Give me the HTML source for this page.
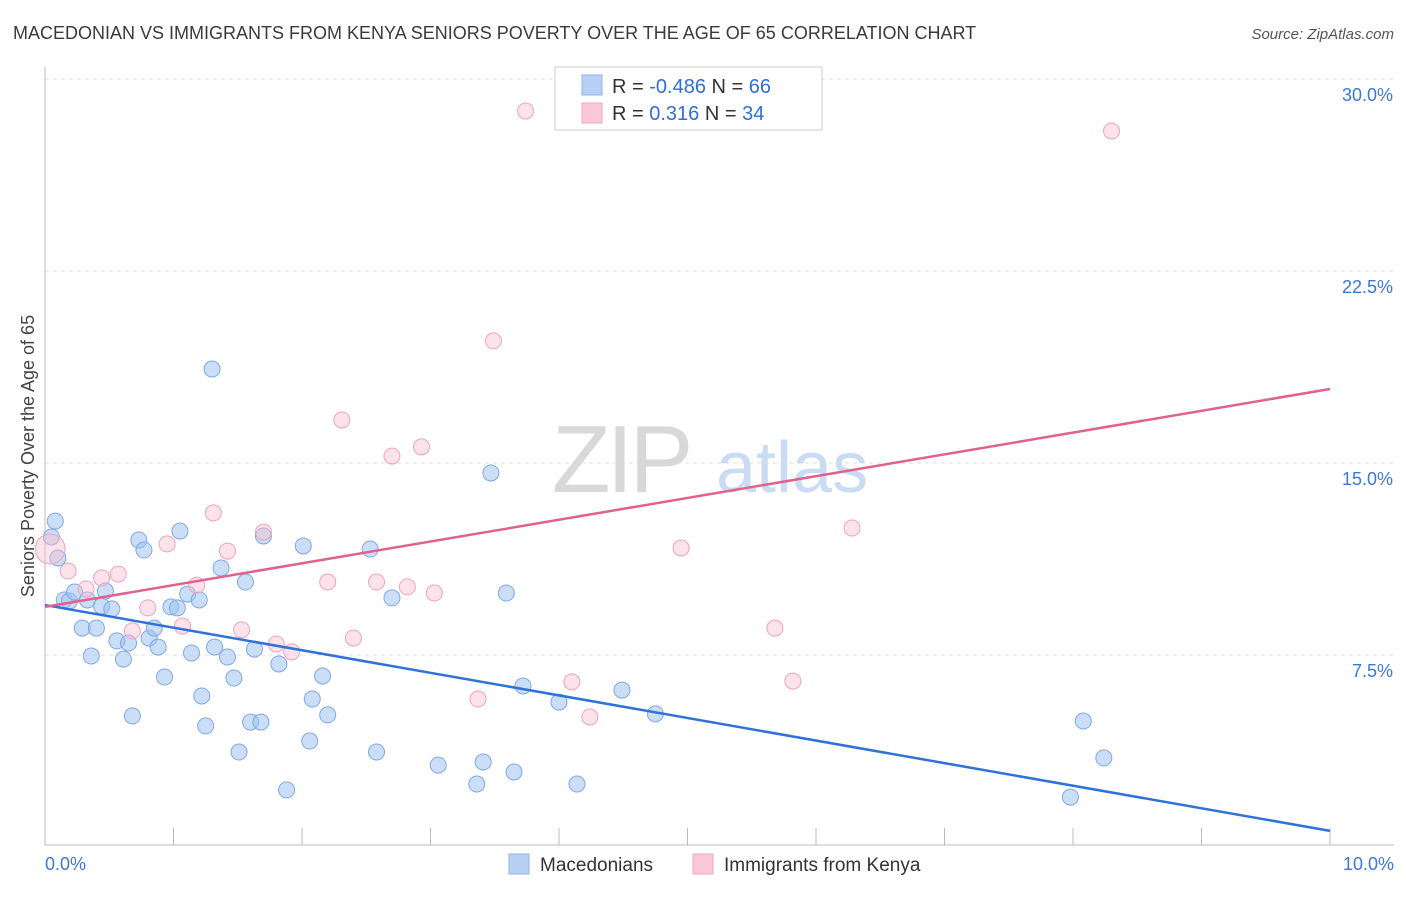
<!DOCTYPE html>
<html><head><meta charset="utf-8"><style>
body{margin:0;background:#fff;font-family:"Liberation Sans",sans-serif;}
svg text{font-family:"Liberation Sans",sans-serif;}
</style></head><body>
<svg id="chart" width="1406" height="892" xmlns="http://www.w3.org/2000/svg">
<text x="13" y="39" font-size="18" fill="#3a3a3a">MACEDONIAN VS IMMIGRANTS FROM KENYA SENIORS POVERTY OVER THE AGE OF 65 CORRELATION CHART</text>
<text x="1394" y="39" font-size="15" fill="#555" text-anchor="end" font-style="italic">Source: ZipAtlas.com</text>
<g id="grid"></g>
<g>
<text x="552" y="492" font-size="96" fill="#d8d8d8" font-family="Liberation Serif" letter-spacing="-4">ZIP</text>
<text x="716" y="492" font-size="72" fill="#c9dcf3">atlas</text>
</g>
<g id="axes"></g>
<g id="marks"></g>
<text transform="translate(34,456) rotate(-90)" text-anchor="middle" font-size="18" fill="#444">Seniors Poverty Over the Age of 65</text>
<g>
<rect x="555" y="67" width="267" height="63" fill="#fff" stroke="#ccc"/>
<rect x="582" y="75" width="20" height="20" fill="#b7d0f3" stroke="#8fb4e8"/>
<rect x="582" y="103" width="20" height="20" fill="#fac8d6" stroke="#f0a8c0"/>
<text x="612" y="93" font-size="20" fill="#333">R = <tspan fill="#2f6fd6">-0.486</tspan>   N = <tspan fill="#2f6fd6">66</tspan></text>
<text x="612" y="120" font-size="20" fill="#333">R =   <tspan fill="#2f6fd6">0.316</tspan>   N = <tspan fill="#2f6fd6">34</tspan></text>
</g>
<g>
<rect x="509" y="854" width="20" height="20" fill="#b7d0f3" stroke="#8fb4e8"/>
<text x="540" y="871" font-size="19" fill="#333">Macedonians</text>
<rect x="693" y="854" width="20" height="20" fill="#fac8d6" stroke="#f0a8c0"/>
<text x="724" y="871" font-size="19" fill="#333">Immigrants from Kenya</text>
</g>
</svg>
<script>
const yTicks=[7.5,15,22.5,30];
const yTickLabels=["7.5%","15.0%","22.5%","30.0%"];
const xTickLabels=["0.0%","10.0%"];
const blueX=[0.08,0.05,0.10,0.15,0.19,0.23,0.29,0.33,0.36,0.40,0.44,0.47,0.52,0.56,0.61,0.65,0.68,0.73,0.77,0.81,0.85,0.88,0.93,0.98,1.03,1.05,1.11,1.14,1.20,1.22,1.25,1.30,1.32,1.37,1.42,1.47,1.51,1.56,1.60,1.63,1.68,1.70,1.82,1.88,2.01,2.06,2.08,2.16,2.20,2.53,2.58,2.70,3.06,3.36,3.41,3.47,3.59,3.65,3.72,4.00,4.14,4.49,4.75,7.98,8.08,8.24];
const blueY=[12.73,12.11,11.29,9.65,9.61,9.96,8.55,9.65,7.46,8.55,9.41,10.0,9.30,8.05,7.34,7.97,5.12,11.99,11.60,8.16,8.55,7.81,6.64,9.38,9.34,12.34,9.88,7.58,9.65,5.90,4.73,18.67,7.81,10.90,7.42,6.60,3.71,10.35,4.88,7.73,4.88,12.15,7.15,2.23,11.76,4.14,5.78,6.68,5.16,11.64,3.71,9.73,3.20,2.46,3.32,14.61,9.92,2.93,6.29,5.66,2.46,6.13,5.20,1.95,4.92,3.48];
const pinkX=[0.04,0.18,0.32,0.44,0.57,0.68,0.80,0.95,1.07,1.18,1.31,1.42,1.53,1.70,1.80,1.92,2.20,2.31,2.40,2.58,2.70,2.82,2.93,3.03,3.37,3.49,3.74,4.10,4.24,4.95,5.68,5.82,6.28,8.30];
const pinkY=[11.64,10.78,10.08,10.51,10.66,8.44,9.34,11.84,8.63,10.23,13.05,11.56,8.48,12.30,7.93,7.62,10.35,16.68,8.16,10.35,15.27,10.16,15.63,9.92,5.78,19.77,28.75,6.45,5.08,11.68,8.55,6.48,12.46,27.97];
const blueTrend=[9.45,0.63];
const pinkTrend=[9.38,17.89];
const NS="http://www.w3.org/2000/svg";
const X=v=>45+v*128.5;
const Y=v=>847-v*25.6;
function mk(tag,parent,attrs){const e=document.createElementNS(NS,tag);for(const k in attrs)e.setAttribute(k,attrs[k]);parent.appendChild(e);return e;}
const grid=document.getElementById('grid'),axes=document.getElementById('axes'),marks=document.getElementById('marks');
yTicks.forEach((t,i)=>{
 const l=mk('line',grid,{x1:45,x2:1394,y1:Y(t),y2:Y(t),stroke:'#ddd','stroke-dasharray':'4,4'});
 
 
 const tx=mk('text',axes,{x:1393,y:Y(t)+22,'text-anchor':'end','font-size':18,fill:'#3b78d8'});
 tx.textContent=yTickLabels[i];
 
 
});
const al=mk('line',axes,{x1:45,x2:45,y1:67,y2:845,stroke:'#bbb'});


const bl=mk('line',axes,{x1:45,x2:1394,y1:845,y2:845,stroke:'#bbb'});


for(let i=0;i<=10;i++){
 const t=mk('line',axes,{x1:X(i),x2:X(i),y1:828,y2:845,stroke:'#bbb'});
 
 
}
[[0,'start',45],[10,'end',1394]].forEach((d,i)=>{
 const tx=mk('text',axes,{x:d[2],y:870,'text-anchor':d[1],'font-size':18,fill:'#3b78d8'});
 tx.textContent=xTickLabels[i];
 
 
});
blueX.forEach((x,i)=>{
 const c=mk('circle',marks,{cx:X(x),cy:Y(blueY[i]),r:8,fill:'rgba(160,195,240,0.55)',stroke:'#7fa8e4','stroke-width':1});
 
 
});
pinkX.forEach((x,i)=>{
 const c=mk('circle',marks,{cx:X(x),cy:Y(pinkY[i]),r:i===0?15:8,fill:'rgba(248,190,208,0.45)',stroke:'#eea3bb','stroke-width':1});
 
 
});
const b=mk('line',marks,{x1:X(0),y1:Y(blueTrend[0]),x2:X(10),y2:Y(blueTrend[1]),stroke:'#2f72d8','stroke-width':2.5});


const p=mk('line',marks,{x1:X(0),y1:Y(pinkTrend[0]),x2:X(10),y2:Y(pinkTrend[1]),stroke:'#e0628c','stroke-width':2.5});


</script>
</body></html>
